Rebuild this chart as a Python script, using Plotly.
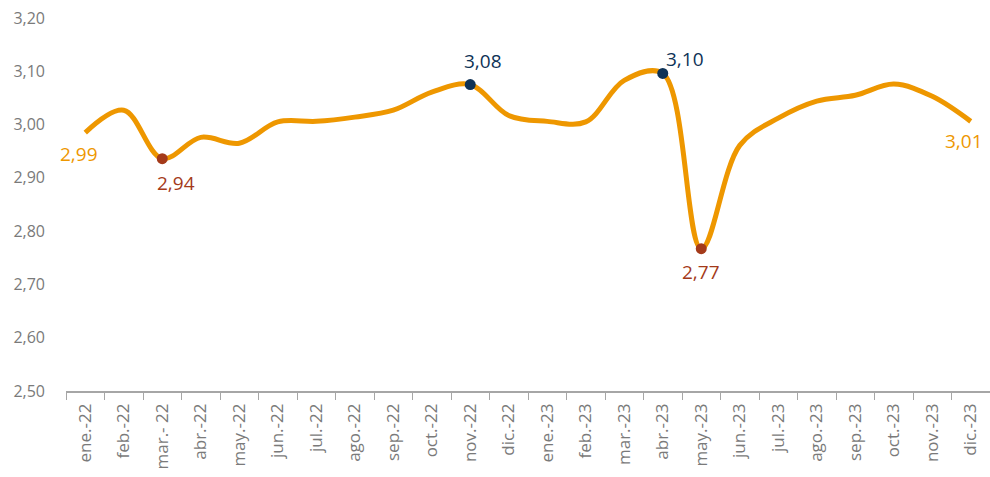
import plotly.graph_objects as go

months = ["ene.-22", "feb.-22", "mar.- 22", "abr.-22", "may.-22", "jun.-22", "jul.-22", "ago.-22",
          "sep.-22", "oct.-22", "nov.-22", "dic.-22", "ene.-23", "feb.-23", "mar.-23", "abr.-23",
          "may.-23", "jun.-23", "jul.-23", "ago.-23", "sep.-23", "oct.-23", "nov.-23", "dic.-23"]
values = [2.985, 3.027, 2.936, 2.976, 2.965, 3.005, 3.006, 3.014, 3.027, 3.061, 3.075, 3.017,
          3.006, 3.005, 3.083, 3.096, 2.767, 2.961, 3.012, 3.044, 3.055, 3.076, 3.053, 3.006]

low_idx = [2, 16]
high_idx = [10, 15]
low_labels = ["2,94", "2,77"]
high_labels = ["3,08", "3,10"]
end_idx = [0, 23]
end_labels = ["2,99", "3,01"]

ORANGE = "#EE9700"
RED = "#A43A1A"
NAVY = "#0E3256"
GREY = "#7a7a7a"
FONT = "Open Sans"

fig = go.Figure()
fig.add_trace(go.Scatter(x=months, y=values, mode="lines",
                         line=dict(color=ORANGE, width=5, shape="spline", smoothing=1.0),
                         hoverinfo="skip", showlegend=False))
fig.add_trace(go.Scatter(x=[months[i] for i in low_idx], y=[values[i] for i in low_idx],
                         mode="markers", marker=dict(color=RED, size=11), showlegend=False))
fig.add_trace(go.Scatter(x=[months[i] for i in high_idx], y=[values[i] for i in high_idx],
                         mode="markers", marker=dict(color=NAVY, size=11), showlegend=False))

shifts = {0: (-6, -21), 23: (-7, -20), 2: (14, -24), 16: (0, -23), 10: (13, 24), 15: (22, 14)}
colors = {0: ORANGE, 23: ORANGE, 2: RED, 16: RED, 10: NAVY, 15: NAVY}
all_idx = end_idx + low_idx + high_idx
all_labels = end_labels + low_labels + high_labels
for i, lab in zip(all_idx, all_labels):
    dx, dy = shifts[i]
    fig.add_annotation(x=months[i], y=values[i], text=lab, showarrow=False,
                       xshift=dx, yshift=dy, font=dict(family=FONT, size=19, color=colors[i]))

fig.update_layout(
    width=990, height=477,
    margin=dict(l=66, r=0, t=18, b=86, autoexpand=False),
    plot_bgcolor="white", paper_bgcolor="white",
    separators=",.",
    font=dict(family=FONT, color=GREY),
    xaxis=dict(type="category", tickangle=-90, showgrid=False, showline=True,
               linecolor="#a6a6a6", linewidth=1.5, ticks="outside", ticklen=7,
               tickcolor="#a6a6a6", tickson="boundaries", automargin=False,
               ticklabelstandoff=4,
               tickfont=dict(family=FONT, size=17, color=GREY),
               range=[-0.5, 23.5]),
    yaxis=dict(range=[2.5, 3.2], dtick=0.1, tickformat=".2f", showgrid=False,
               showline=False, zeroline=False, ticks="", automargin=False,
               ticklabelstandoff=20,
               tickfont=dict(family=FONT, size=16, color=GREY)),
)

fig.write_html("out.html", config={"displayModeBar": False},
               post_script="document.body.style.margin='0';document.body.style.overflow='hidden';")
